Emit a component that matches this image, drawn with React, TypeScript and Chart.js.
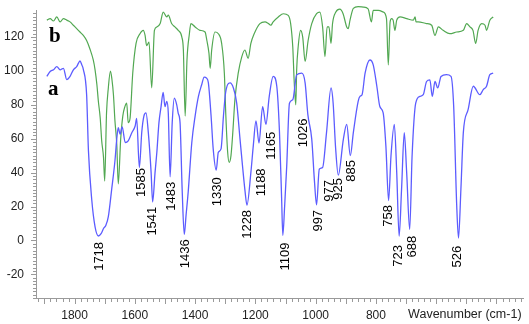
import React, { useEffect, useRef } from 'react';
import { Chart, registerables } from 'chart.js';

Chart.register(...registerables);

// Spectrum a (blue)
const waveA = [1892,1881,1870,1859,1848,1837,1826,1815,1804,1793,1787,1782,1776,1771,1760,1754,1743,1732,1721,1712,1704,1696,1688,1677,1666,1660,1655,1649,1642,1632,1622,1610,1599,1594,1585,1577,1570,1563,1555,1546,1541,1533,1527,1520,1513,1506,1500,1494,1489,1483,1476,1469,1461,1456,1450,1443,1436,1430,1423,1411,1400,1389,1378,1370,1362,1356,1347,1340,1330,1323,1314,1306,1299,1284,1273,1262,1251,1234,1228,1215,1207,1198,1188,1176,1165,1154,1141,1129,1120,1113,1109,1103,1096,1087,1076,1063,1046,1035,1026,1013,1004,997,988,977,964,949,942,934,925,908,897,885,875,859,853,846,836,820,809,797,787,776,767,758,750,739,731,723,715,706,698,688,680,668,654,643,632,621,613,604,595,584,566,551,542,532,526,518,510,494,477,455,444,433,422,411];
const transA = [96.8,99.7,100.7,102.6,100.7,101.6,94.9,96.8,100.7,102.6,104.6,106,103.6,101,86,53,24,8,2.6,4,7,9,14,30,47,60,66.5,62.7,67,57.8,58.8,63.6,67.5,72,43,64,73.4,75.3,63,40,22.7,40,52,69.5,79,87.4,79,82,75,37.5,69.5,84,80,75,69.5,30,3.5,15,28.5,57.8,73.4,85,92,96.4,95.8,93,73.4,54,41.5,52,54,73.4,87,93,90,81,59.8,28.5,20.8,40,55.8,70.5,57.5,79,68.5,85,96.8,91,63.6,25,3,20,44,81,83,97.7,98.7,93,74.4,59.8,35,21,42,43,63.6,90,81,55,38.5,59.8,68.5,50,63.6,82,85,86,98.7,106.5,103.6,91,79,75.3,55.8,23.5,50,68.5,40,2.5,30,63.6,40,6.5,50,81,85,86,93.8,94.8,85,93.8,90,96.8,97.8,96.8,79,20.8,1.3,30.5,63.6,77.3,91,86,89,91,97.8,98.7];

// Spectrum b (green)
const waveB = [1892,1881,1870,1859,1848,1837,1826,1815,1804,1793,1782,1771,1760,1749,1738,1732,1726,1721,1715,1710,1704,1700,1694,1688,1681,1676,1671,1666,1660,1655,1647,1640,1633,1627,1622,1616,1607,1596,1583,1572,1566,1561,1553,1544,1535,1527,1516,1506,1494,1489,1478,1467,1456,1444,1439,1433,1427,1419,1414,1400,1384,1367,1361,1354,1350,1345,1334,1323,1312,1303,1298,1292,1287,1281,1275,1268,1257,1245,1235,1224,1215,1204,1185,1168,1157,1149,1141,1124,1107,1091,1083,1076,1071,1066,1063,1058,1050,1043,1035,1025,1013,997,986,977,969,962,956,949,944,933,920,909,897,892,886,875,859,842,826,815,809,792,776,765,759,753,748,743,737,731,720,698,676,670,667,660,632,615,604,593,577,555,532,510,499,488,478,469,461,449,438,433,422,411];
const transB = [130,130.9,129.5,131.9,129,130.9,130,129,127,125,123,121,118,113,106.5,100.7,92,82,72.4,58.8,49,35,75,90,100,95,86,70.5,56.8,33.4,59.8,73.4,79,81,69.5,72,98.7,116.3,122,124,121,115,117,90,124,126,128,134.8,131.9,133,128,126,124,120,112.4,73.4,106.5,122,128,126,124,123,118,110.4,101.6,112.4,123,122,116.3,98.7,73.4,52,46,50,63.6,83,98.7,108.5,112.4,107.5,116.3,122,128,129,128,127,129,131.9,133.8,132.8,128,114.3,92.9,80,100.7,114.3,124,120,105.6,118,128,133.8,134.8,126,108.5,126,126,116.3,128,134.8,136.5,133.8,126,125,130,137,138,137.7,136.7,129,135.8,135.8,134.8,130.9,103.6,129,130.9,130,124,130,131.9,130.9,130,132,129,129,128,127,121,126,124,122,123,124,128,126,124,116.3,124,128,127,124,130,131.9];

// Peak annotations
const peakLabels = ['1718','1585','1541','1483','1436','1330','1228','1188','1165','1109','1026','997','977','925','885','758','723','688','526'];
const labelWave = [1719,1577,1541,1478,1433,1327,1225,1181,1148,1102,1039,992,956,926,883,760,724,679,528];
const labelTop = [-0.9,42.7,19.9,34.6,0.7,37.2,18,42.5,64.1,-1.3,72,18,35.6,36.8,47.4,20.9,-2.7,2.7,-3.2];

// Series names
const seriesNames = ['a', 'b'];
const seriesNameWave = [1888, 1885];
const seriesNameBase = [85.7, 116.9];

// Axes
const xTickLabels = [1800, 1600, 1400, 1200, 1000, 800];
const xTitle = 'Wavenumber (cm-1)';
const xTitleAt = 505;
const yTickLabels = [-20, 0, 20, 40, 60, 80, 100, 120];
const X_MIN = 312, X_MAX = 1928, Y_MIN = -34, Y_MAX = 136;

const AXIS_COLOR = '#9a9a9a';
const TEXT_COLOR = '#222';
const FONT = '"Liberation Sans", Arial, sans-serif';

const decorPlugin = {
  id: 'decor',
  afterDatasetsDraw(chart: any) {
    const { ctx, chartArea, scales } = chart;
    const x = scales.x, y = scales.y;
    ctx.save();
    ctx.strokeStyle = AXIS_COLOR;
    ctx.lineWidth = 1;
    ctx.beginPath();
    for (let v = 320; v <= 1920; v += 20) {
      const px = Math.round(x.getPixelForValue(v)) + 0.5;
      const len = v % 100 === 0 ? 6 : 4;
      ctx.moveTo(px, chartArea.bottom);
      ctx.lineTo(px, chartArea.bottom + len);
    }
    for (let v = -34; v <= 134; v += 2) {
      const py = Math.round(y.getPixelForValue(v)) + 0.5;
      const len = v % 20 === 0 ? 5 : 3;
      ctx.moveTo(chartArea.left, py);
      ctx.lineTo(chartArea.left - len, py);
    }
    ctx.stroke();

    // axis title, level with the tick labels
    ctx.fillStyle = TEXT_COLOR;
    ctx.font = '12.5px ' + FONT;
    ctx.textAlign = 'center';
    ctx.textBaseline = 'middle';
    ctx.fillText(xTitle, x.getPixelForValue(xTitleAt), chartArea.bottom + 16.5);

    ctx.fillStyle = '#000';
    ctx.font = '13px ' + FONT;
    ctx.textAlign = 'right';
    ctx.textBaseline = 'middle';
    peakLabels.forEach((t, i) => {
      const px = x.getPixelForValue(labelWave[i]);
      const py = y.getPixelForValue(labelTop[i]);
      ctx.save();
      ctx.translate(px, py);
      ctx.rotate(-Math.PI / 2);
      ctx.fillText(t, 0, 0);
      ctx.restore();
    });

    ctx.font = 'bold 21px "Liberation Serif", "Times New Roman", serif';
    ctx.textAlign = 'left';
    ctx.textBaseline = 'alphabetic';
    seriesNames.forEach((t, i) => {
      ctx.fillText(t, x.getPixelForValue(seriesNameWave[i]), y.getPixelForValue(seriesNameBase[i]));
    });
    ctx.restore();
  },
};

export default function App() {
  const ref = useRef<HTMLCanvasElement>(null);
  useEffect(() => {
    const chart = new Chart(ref.current as HTMLCanvasElement, {
      type: 'line',
      data: {
        datasets: [
          {
            label: 'a',
            data: waveA.map((w, i) => ({ x: w, y: transA[i] })),
            borderColor: '#5c5cff',
            borderWidth: 1.3,
            pointRadius: 0,
            cubicInterpolationMode: 'monotone',
            clip: false as any,
          },
          {
            label: 'b',
            data: waveB.map((w, i) => ({ x: w, y: transB[i] })),
            borderColor: '#52a852',
            borderWidth: 1.2,
            pointRadius: 0,
            cubicInterpolationMode: 'monotone',
            clip: false as any,
          },
        ],
      },
      options: {
        responsive: false,
        animation: false,
        events: [],
        layout: { padding: { top: 10, right: 6, left: 0, bottom: 0 } },
        plugins: { legend: { display: false }, tooltip: { enabled: false } },
        scales: {
          x: {
            type: 'linear',
            reverse: true,
            min: X_MIN,
            max: X_MAX,
            afterFit: (s: any) => { s.height = 26; s.paddingLeft = 0; s.paddingRight = 0; },
            grid: { display: false, drawTicks: false },
            border: { display: true, color: AXIS_COLOR, width: 1 },
            ticks: {
              stepSize: 100,
              autoSkip: false,
              maxRotation: 0,
              minRotation: 0,
              padding: 10,
              color: TEXT_COLOR,
              font: { family: FONT, size: 12 },
              callback: (v: any) => {
                const r = Math.round(Number(v));
                return xTickLabels.includes(r) ? String(r) : '';
              },
            },
          },
          y: {
            type: 'linear',
            min: Y_MIN,
            max: Y_MAX,
            afterFit: (s: any) => { s.width = 36; s.paddingTop = 0; s.paddingBottom = 0; },
            grid: { display: false, drawTicks: false },
            border: { display: true, color: AXIS_COLOR, width: 1 },
            ticks: {
              stepSize: 20,
              autoSkip: false,
              padding: 12,
              color: TEXT_COLOR,
              font: { family: FONT, size: 12 },
              callback: (v: any) => {
                const r = Math.round(Number(v));
                return yTickLabels.includes(r) ? String(r) : '';
              },
            },
          },
        },
      },
      plugins: [decorPlugin],
    } as any);
    return () => chart.destroy();
  }, []);
  return (
    <div style={{ position: 'fixed', left: 0, top: 0, width: 529, height: 324, background: '#fff' }}>
      <canvas ref={ref} width={529} height={324} style={{ display: 'block' }} />
    </div>
  );
}
